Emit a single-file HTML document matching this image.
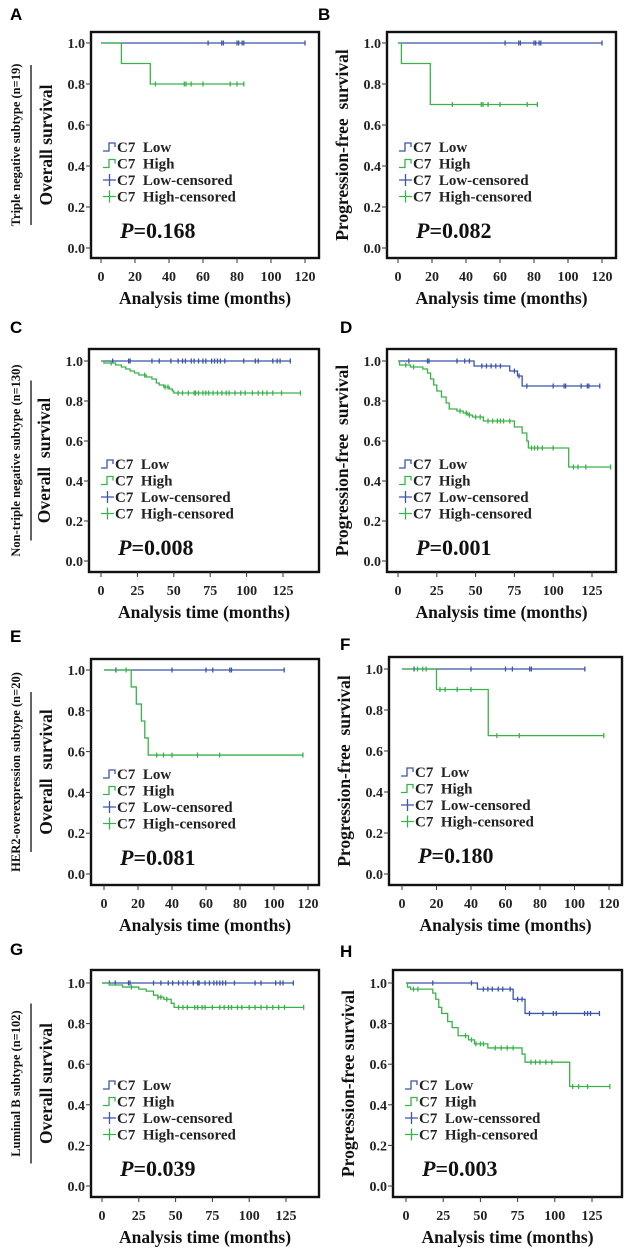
<!DOCTYPE html>
<html><head><meta charset="utf-8"><style>
html,body{margin:0;padding:0;background:#fff;}
svg{display:block;}
text{font-family:"Liberation Serif",serif;font-weight:bold;white-space:pre;}
</style></head><body>
<svg id="fig" width="630" height="1258" viewBox="0 0 630 1258" xmlns="http://www.w3.org/2000/svg"></svg>
<script>
// ---- data (time in months, survival probability) ----
const aLowSteps=[]; const aLowEnd=120; const aLowCens=[63,71,72,80,81,83,84,120];
const aHighSteps=[[12,0.9],[29,0.8]]; const aHighEnd=84; const aHighCens=[32,49,50,53,60,76,80,84];
const bLowSteps=[]; const bLowEnd=120; const bLowCens=[63,71,72,80,81,83,84,120];
const bHighSteps=[[2,0.9],[19,0.7]]; const bHighEnd=82; const bHighCens=[32,49,50,53,60,76,82];
const cLowSteps=[]; const cLowEnd=130; const cLowCens=[8,19,20,35,40,48,53,56,58,62,64,67,70,72,76,78,80,82,85,98,106,108,118,121,123,130];
const cHighSteps=[[2,0.99],[10,0.98],[14,0.97],[17,0.96],[20,0.95],[23,0.94],[26,0.93],[31,0.92],[35,0.91],[38,0.89],[40,0.88],[43,0.87],[47,0.86],[49,0.85],[50,0.84]];
const cHighEnd=137; const cHighCens=[7,30,44,46,53,56,60,64,65,67,70,72,74,77,80,83,86,88,92,96,99,104,108,111,114,118,124,137];
const dLowSteps=[[49,0.975],[72,0.95],[77,0.925],[80,0.875]]; const dLowEnd=130;
const dLowCens=[7,19,20,38,43,46,54,57,60,63,66,75,78,83,100,107,108,118,122,123,130];
const dHighSteps=[[1,0.98],[8,0.97],[16,0.96],[19,0.94],[21,0.91],[23,0.88],[25,0.85],[28,0.82],[31,0.79],[33,0.76],[38,0.75],[42,0.74],[45,0.73],[48,0.72],[55,0.70],[75,0.67],[80,0.64],[83,0.60],[84,0.565],[110,0.47]];
const dHighEnd=137; const dHighCens=[5,10,40,44,46,50,53,58,61,64,66,68,72,86,88,90,93,100,113,116,121,137];
const eLowSteps=[]; const eLowEnd=106; const eLowCens=[7,40,60,64,74,75,106];
const eHighSteps=[[16,0.917],[19,0.833],[22,0.75],[24,0.667],[26,0.583]]; const eHighEnd=117; const eHighCens=[13,31,35,40,55,68,117];
const fLowSteps=[]; const fLowEnd=106; const fLowCens=[7,40,60,64,74,75,106];
const fHighSteps=[[20,0.9],[50,0.675]]; const fHighEnd=117; const fHighCens=[9,12,14,22,25,32,40,55,68,117];
const gLowSteps=[]; const gLowEnd=130; const gLowCens=[5,9,18,19,35,40,45,48,52,55,58,62,65,66,70,73,76,78,80,82,84,90,104,108,118,121,123,130];
const gHighSteps=[[5,0.99],[14,0.98],[25,0.97],[30,0.96],[35,0.94],[38,0.93],[42,0.92],[47,0.90],[49,0.88]];
const gHighEnd=137; const gHighCens=[20,38,40,44,52,55,58,63,65,68,70,75,80,83,86,88,92,95,100,104,108,112,116,120,124,137];
const hLowSteps=[[48,0.97],[72,0.92],[80,0.85]]; const hLowEnd=130;
const hLowCens=[18,44,52,55,58,62,65,70,75,78,83,92,99,101,120,122,124,130];
const hHighSteps=[[1,0.98],[3,0.97],[18,0.95],[20,0.92],[22,0.88],[24,0.85],[28,0.81],[31,0.78],[35,0.74],[42,0.72],[46,0.70],[55,0.68],[78,0.65],[80,0.61],[110,0.49]];
const hHighEnd=137; const hHighCens=[5,8,40,44,47,50,52,60,64,68,72,84,87,90,94,98,112,116,122,137];
const yTickLabels=["0.0","0.2","0.4","0.6","0.8","1.0"];
const yTickValues=[0,0.2,0.4,0.6,0.8,1.0];
const xTicks120=[0,20,40,60,80,100,120];
const xTicks125=[0,25,50,75,100,125];
const legendLabels=["C7  Low","C7  High","C7  Low-censored","C7  High-censored"];
const legendLabelsH=["C7  Low","C7  High","C7  Low-censsored","C7  High-censored"];

const BLUE="#3b55a8", GREEN="#3ab24a";
const NS="http://www.w3.org/2000/svg";
const svg=document.getElementById('fig');
function mk(tag,attrs,parent){const e=document.createElementNS(NS,tag);for(const k in attrs)e.setAttribute(k,attrs[k]);(parent||svg).appendChild(e);return e;}

const panels=[
 {id:'a',L:'A',lx:10,ly:20,box:[91,32,319,258],y1:43,y0:248,x0:101,xr:120,xw:305,ticks:xTicks120,yt:'Overall survival',side:'Triple negative subtype (n=19)',P:'0.168',low:[aLowSteps,aLowEnd,aLowCens],high:[aHighSteps,aHighEnd,aHighCens],leg:legendLabels},
 {id:'b',L:'B',lx:318,ly:20,box:[387,32,616,258],y1:43,y0:248,x0:398,xr:120,xw:602,ticks:xTicks120,yt:'Progression-free  survival',P:'0.082',low:[bLowSteps,bLowEnd,bLowCens],high:[bHighSteps,bHighEnd,bHighCens],leg:legendLabels},
 {id:'c',L:'C',lx:10,ly:333,box:[89,349,319,572],y1:361,y0:561,x0:101,xr:125,xw:283,ticks:xTicks125,yt:'Overall  survival',side:'Non-triple negative subtype (n=130)',P:'0.008',low:[cLowSteps,cLowEnd,cLowCens],high:[cHighSteps,cHighEnd,cHighCens],leg:legendLabels},
 {id:'d',L:'D',lx:340,ly:333,box:[387,349,616,572],y1:361,y0:561,x0:398,xr:125,xw:592,ticks:xTicks125,yt:'Progression-free  survival',P:'0.001',low:[dLowSteps,dLowEnd,dLowCens],high:[dHighSteps,dHighEnd,dHighCens],leg:legendLabels},
 {id:'e',L:'E',lx:10,ly:642,box:[91,659,319,885],y1:670,y0:874,x0:104,xr:120,xw:308,ticks:xTicks120,yt:'Overall  survival',side:'HER2-overexpression subtype (n=20)',P:'0.081',low:[eLowSteps,eLowEnd,eLowCens],high:[eHighSteps,eHighEnd,eHighCens],leg:legendLabels},
 {id:'f',L:'F',lx:340,ly:650,box:[389,657,622,885],y1:669,y0:874,x0:402,xr:120,xw:609,ticks:xTicks120,yt:'Progression-free  survival',P:'0.180',low:[fLowSteps,fLowEnd,fLowCens],high:[fHighSteps,fHighEnd,fHighCens],leg:legendLabels},
 {id:'g',L:'G',lx:10,ly:955,box:[91,970,319,1197],y1:983,y0:1186,x0:102,xr:125,xw:286,ticks:xTicks125,yt:'Overall survival',side:'Luminal B subtype (n=102)',P:'0.039',low:[gLowSteps,gLowEnd,gLowCens],high:[gHighSteps,gHighEnd,gHighCens],leg:legendLabels},
 {id:'h',L:'H',lx:340,ly:957,box:[393,970,622,1197],y1:983,y0:1186,x0:406,xr:125,xw:592,ticks:xTicks125,yt:'Progression-free survival',P:'0.003',low:[hLowSteps,hLowEnd,hLowCens],high:[hHighSteps,hHighEnd,hHighCens],leg:legendLabelsH},
];

function survAt(steps,t){let s=1;for(const [tt,v] of steps){if(tt<=t)s=v;}return s;}

panels.forEach(p=>{
 const g=mk('g',{});
 
 
 const [bx0,by0,bx1,by1]=p.box;
 const X=t=>p.x0+(p.xw-p.x0)*t/p.xr;
 const Y=v=>p.y0+(p.y1-p.y0)*v;
 const lt=mk('text',{x:p.lx,y:p.ly,'font-size':17,style:'font-family:"Liberation Sans",sans-serif'},g);
 lt.textContent=p.L;
 
 
 const box=mk('rect',{x:bx0,y:by0,width:bx1-bx0,height:by1-by0,fill:'none',stroke:'#111','stroke-width':2.4},g);
 
 
 yTickValues.forEach((v,i)=>{
  mk('line',{x1:bx0-5,x2:bx0,y1:Y(v),y2:Y(v),stroke:'#333','stroke-width':1},g);
  const t=mk('text',{x:bx0-6,y:Y(v)+5,'font-size':14,'text-anchor':'end',fill:'#222'},g);
  t.textContent=yTickLabels[i];
  
  
 });
 p.ticks.forEach(v=>{
  mk('line',{x1:X(v),x2:X(v),y1:by1,y2:by1+5,stroke:'#333','stroke-width':1},g);
  const t=mk('text',{x:X(v),y:by1+23,'font-size':14,'text-anchor':'middle',fill:'#222'},g);
  t.textContent=v;
  
  
 });
 const xt=mk('text',{x:(bx0+bx1)/2,y:by1+46,'font-size':17.5,'text-anchor':'middle',fill:'#111'},g);
 xt.textContent='Analysis time (months)';
 
 
 const cy=(by0+by1)/2, yx=bx0-39;
 const yt=mk('text',{x:yx,y:cy,'font-size':17.5,'text-anchor':'middle',fill:'#111',transform:`rotate(-90 ${yx} ${cy})`},g);
 yt.textContent=p.yt;
 
 
 if(p.side){
  const sx=20;
  const st=mk('text',{x:sx,y:cy,'font-size':12.5,'text-anchor':'middle',fill:'#111',transform:`rotate(-90 ${sx} ${cy})`},g);
  st.textContent=p.side;
  
  
  const sl=mk('line',{x1:31,x2:31,y1:cy-80,y2:cy+80,stroke:'#111','stroke-width':1.3},g);
  
  
 }
 [[p.low,BLUE,'low'],[p.high,GREEN,'high']].forEach(([ser,col,nm])=>{
  const [steps,end,cens]=ser;
  let d=`M${X(0)},${Y(1)}`;
  steps.forEach(([t,v])=>{d+=` H${X(t)} V${Y(v)}`;});
  d+=` H${X(end)}`;
  const path=mk('path',{d:d,fill:'none',stroke:col,'stroke-width':1.3},g);
  
  
  cens.forEach(t=>{
   const y=Y(survAt(steps,t)),x=X(t);
   const c=mk('path',{d:`M${x},${y-2.5} V${y+2.5}`,stroke:col,'stroke-width':1.3},g);
   
   
  });
 });
 const lx=bx0+12, ly=by0+115;
 p.leg.forEach((lab,i)=>{
  const col=i%2===0?BLUE:GREEN, y=ly+i*16.5;
  if(i<2) mk('path',{d:`M${lx},${y+4} H${lx+6} V${y-4} H${lx+12} V${y}`,fill:'none',stroke:col,'stroke-width':1.3},g);
  else mk('path',{d:`M${lx},${y} H${lx+13} M${lx+6.5},${y-6} V${y+6}`,fill:'none',stroke:col,'stroke-width':1.3},g);
  const t=mk('text',{x:lx+14,y:y+5,'font-size':15,fill:'#222'},g);
  t.textContent=lab;
  
  
 });
 const pt=mk('text',{x:bx0+29,y:by0+206,'font-size':22,fill:'#111'},g);
 pt.innerHTML='<tspan font-style="italic">P</tspan>=' + p.P;
 
 
});
</script>
</body></html>
